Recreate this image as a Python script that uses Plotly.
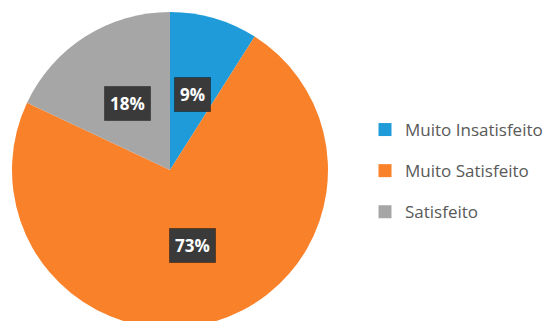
import numpy as np
import plotly.graph_objects as go

categories = ["Muito Insatisfeito", "Muito Satisfeito", "Satisfeito"]
values = [9, 73, 18]
colors = ["#1E9BD8", "#F9812A", "#A6A6A6"]

W, H = 550, 340
cx, cy, R = 170, 170, 158

fig = go.Figure()
fig.add_trace(go.Pie(
    labels=categories, values=values, sort=False, direction="clockwise", rotation=0,
    marker=dict(colors=colors, line=dict(width=0)), textinfo="none", hoverinfo="label+percent",
    showlegend=False,
    domain=dict(x=[(cx - R) / W, (cx + R) / W], y=[1 - (cy + R) / H, 1 - (cy - R) / H]),
))

# legend via dummy traces so spacing between entries can be controlled
for i, (c, col) in enumerate(zip(categories, colors)):
    fig.add_trace(go.Scatter(x=[None], y=[None], mode="markers", name=c,
                             marker=dict(symbol="square", size=13, color=col),
                             legendgroup=f"g{i}", showlegend=True))

# percentage labels inside slices
v = np.array(values, dtype=float)
frac = v / v.sum()
mid = (np.cumsum(frac) - frac / 2) * 2 * np.pi
for f, a in zip(frac, mid):
    r = 0.5 * R
    px = cx + r * np.sin(a)
    py = cy - r * np.cos(a)
    fig.add_annotation(x=px / W, y=1 - py / H, xref="paper", yref="paper",
                       xanchor="center", yanchor="middle",
                       text=f"<b>{round(f * 100):.0f}%</b>", showarrow=False,
                       font=dict(family="Open Sans", size=17, color="white"),
                       bgcolor="#3A3A3A", bordercolor="rgba(0,0,0,0.35)", borderwidth=1,
                       borderpad=5)

fig.update_layout(
    width=W, height=H, margin=dict(l=0, r=0, t=0, b=0),
    paper_bgcolor="white", plot_bgcolor="white",
    xaxis=dict(visible=False), yaxis=dict(visible=False),
    legend=dict(x=365 / W, y=1 - 171 / H, xanchor="left", yanchor="middle",
                font=dict(family="Open Sans", size=17, color="#595959"),
                tracegroupgap=16, itemclick=False, bgcolor="rgba(0,0,0,0)"),
)

fig.write_html("out.html", post_script="document.documentElement.style.overflow='hidden';document.body.style.overflow='hidden';document.body.style.margin='0';")
